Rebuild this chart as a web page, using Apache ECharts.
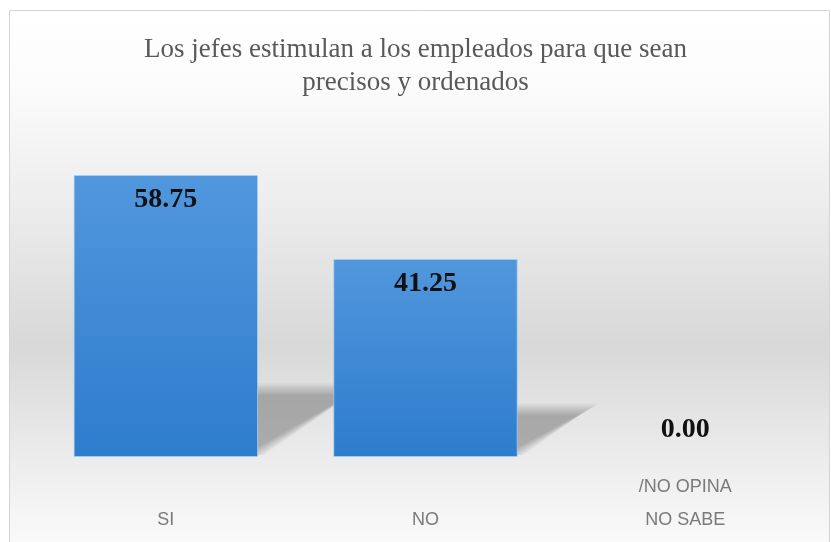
<!DOCTYPE html>
<html>
<head>
<meta charset="utf-8">
<script src="https://cdn.jsdelivr.net/npm/echarts@6/dist/echarts.min.js"></script>
<style>
  html, body { margin: 0; padding: 0; background: #ffffff; }
  #chart { width: 831px; height: 542px; }
</style>
</head>
<body>
<div id="chart"></div>
<script>
// Survey answers (percent of respondents)
const categories = ['SI', 'NO', 'NO SABE /NO OPINA'];
const values = [58.75, 41.25, 0.00];
const titleText = 'Los jefes estimulan a los empleados para que sean\nprecisos y ordenados';

const chart = echarts.init(document.getElementById('chart'), null, { renderer: 'canvas' });

const BAR_RATIO = 0.71;

// Soft cast shadow behind each bar, skewed to the right like a floor shadow.
// Several translucent layers of growing size give it a blurred edge.
function renderShadow(params, api) {
  const idx = api.value(0);
  const v = api.value(1);
  if (!v) return null;
  const base = api.coord([idx, 0]);
  const top = api.coord([idx, v]);
  const w = api.size([1, 0])[0] * BAR_RATIO;
  const xL = base[0] - w / 2;
  const xR = base[0] + w / 2;
  const yB = base[1];
  const sh = (yB - top[1]) * 0.24;
  const shear = sh * 1.5;
  const layers = [];
  for (let e = -10; e <= 10; e += 2) {
    layers.push({
      type: 'polygon',
      shape: {
        points: [
          [xL, yB - 2],
          [xR - 4 - e, yB - 2],
          [xR + shear + e, yB - sh - e * 0.6],
          [xL + shear, yB - sh - e * 0.6]
        ]
      },
      style: { fill: 'rgba(60,60,60,0.034)' }
    });
  }
  return { type: 'group', children: layers };
}

const option = {
  backgroundColor: '#ffffff',
  animation: false,
  graphic: [{
    type: 'rect',
    z: -10,
    silent: true,
    shape: { x: 9.5, y: 10.5, width: 820, height: 540 },
    style: {
      fill: new echarts.graphic.LinearGradient(0, 0, 0, 1, [
        { offset: 0, color: '#ffffff' },
        { offset: 0.15, color: '#fbfbfb' },
        { offset: 0.38, color: '#ebebeb' },
        { offset: 0.62, color: '#d8d8d8' },
        { offset: 0.85, color: '#eeeeee' },
        { offset: 1, color: '#fbfbfb' }
      ]),
      stroke: '#d4d4d4',
      lineWidth: 1
    }
  }],
  title: {
    text: titleText,
    left: 'center',
    top: 28,
    textStyle: {
      fontFamily: 'Liberation Serif',
      fontSize: 27,
      fontWeight: 'normal',
      color: '#595959',
      lineHeight: 33
    }
  },
  grid: { left: 36, right: 16, top: 121, bottom: 85 },
  xAxis: {
    type: 'category',
    data: categories,
    axisLine: { show: false },
    axisTick: { show: false },
    axisLabel: {
      interval: 0,
      margin: 80,
      verticalAlign: 'bottom',
      fontFamily: 'Liberation Sans',
      fontSize: 18,
      color: '#7a7a7a',
      lineHeight: 33,
      formatter: function (val) {
        const parts = val.split(' /');
        return parts.length > 1 ? '/' + parts[1] + '\n' + parts[0] : val;
      }
    }
  },
  yAxis: {
    type: 'value',
    min: 0,
    max: 70,
    show: false,
    splitLine: { show: false }
  },
  series: [
    {
      type: 'custom',
      z: 1,
      silent: true,
      renderItem: renderShadow,
      encode: { x: 0, y: 1 },
      data: values.map((v, i) => [i, v])
    },
    {
      type: 'bar',
      z: 3,
      barWidth: (BAR_RATIO * 100) + '%',
      data: values.map(v => (v === 0
        ? { value: v, itemStyle: { borderWidth: 0 }, label: { position: 'top', distance: 13 } }
        : { value: v })),
      itemStyle: {
        color: new echarts.graphic.LinearGradient(0, 0, 0, 1, [
          { offset: 0, color: '#5197dd' },
          { offset: 1, color: '#2e7ccd' }
        ]),
        borderColor: 'rgba(170,210,245,0.7)',
        borderWidth: 1
      },
      label: {
        show: true,
        position: 'insideTop',
        distance: 11,
        fontFamily: 'Liberation Serif',
        fontWeight: 'bold',
        fontSize: 28,
        color: '#111111',
        formatter: p => Number(p.value).toFixed(2)
      }
    }
  ]
};

chart.setOption(option);
</script>
</body>
</html>
